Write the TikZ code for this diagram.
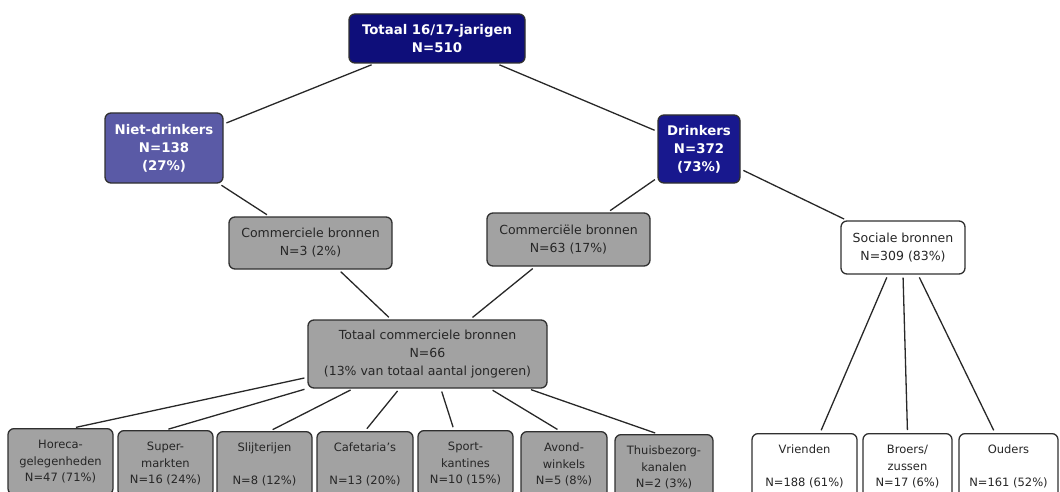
\documentclass[tikz,border=0pt]{standalone}
\usepackage{fontspec}
\setmainfont{DejaVu Sans}
\usetikzlibrary{positioning}

\definecolor{navy}{RGB}{14,14,122}
\definecolor{navylight}{RGB}{24,24,142}
\definecolor{lavendel}{RGB}{90,90,166}
\definecolor{grijs}{RGB}{162,162,162}
\definecolor{rand}{RGB}{48,48,48}
\definecolor{lijn}{RGB}{40,40,40}

\begin{document}
\begin{tikzpicture}[
	x=1pt, y=-1pt,
	shorten >=3pt,
	shorten <=3pt,
	line width=1.3pt,
	lijn,
	box/.style={draw=rand, line width=1.3pt, rounded corners=6pt, inner sep=0pt, align=center},
	kop/.style={box, fill=navy, text=white, font=\fontsize{13.3}{18}\selectfont\bfseries},
	sub/.style={kop, fill=lavendel},
	bron/.style={box, fill=grijs, text=black!85, font=\fontsize{12.5}{18}\selectfont},
	sociaal/.style={bron, fill=white},
	blad/.style={bron, anchor=north, minimum height=66, font=\fontsize{11.5}{16.5}\selectfont},
	bladw/.style={blad, fill=white}
]
\useasboundingbox (0,0) rectangle (1060,492);
\clip (0,0) rectangle (1060,492);

\node[kop] (tot) at (437,38.5) [minimum width=176, minimum height=49] {Totaal 16/17-jarigen\\N=510};
\node[sub] (niet) at (164,148) [minimum width=118, minimum height=70] {Niet-drinkers\\N=138\\(27\%)};
\node[kop] (drink) at (699,149) [fill=navylight, minimum width=82, minimum height=68] {Drinkers\\N=372\\(73\%)};

\node[bron] (comL) at (310.5,243) [minimum width=163, minimum height=52] {Commerciele bronnen\\N=3 (2\%)};
\node[bron] (comR) at (568.5,239.5) [minimum width=163, minimum height=53] {Commerciële bronnen\\N=63 (17\%)};
\node[sociaal] (soc) at (903,247.5) [minimum width=124, minimum height=53] {Sociale bronnen\\N=309 (83\%)};

\node[bron] (totc) at (427.5,354) [minimum width=239, minimum height=68] {Totaal commerciele bronnen\\N=66\\(13\% van totaal aantal jongeren)};

% commerciele bronnen
\node[blad] (hor) at (60.5,428) [minimum width=105] {Horeca-\\gelegenheden\\N=47 (71\%)};
\node[blad] (sup) at (165.5,430) [minimum width=95] {Super-\\markten\\N=16 (24\%)};
\node[blad] (slij) at (264.5,431) [minimum width=95] {Slijterijen\\~\\N=8 (12\%)};
\node[blad] (caf) at (365,431) [minimum width=96] {Cafetaria's\\~\\N=13 (20\%)};
\node[blad] (sport) at (465.5,430) [minimum width=95] {Sport-\\kantines\\N=10 (15\%)};
\node[blad] (avond) at (564,431) [minimum width=86] {Avond-\\winkels\\N=5 (8\%)};
\node[blad] (thuis) at (664,434) [minimum width=98] {Thuisbezorg-\\kanalen\\N=2 (3\%)};

% sociale bronnen
\node[bladw] (vri) at (804.5,433) [minimum width=105] {Vrienden\\~\\N=188 (61\%)};
\node[bladw] (bro) at (907.5,433) [minimum width=89] {Broers/\\zussen\\N=17 (6\%)};
\node[bladw] (oud) at (1008.5,433) [minimum width=99] {Ouders\\~\\N=161 (52\%)};

\path 	(tot) edge (niet)
		edge (drink)
	(niet) edge (comL)
	(drink) edge (comR)
		edge (soc)
	(comL) edge (totc)
	(comR) edge (totc)
	(totc.191) edge ([xshift=12.5pt]hor.north)
	(totc.196) edge (sup.north)
	(totc.205) edge ([xshift=5.5pt]slij.north)
	(totc.231) edge (caf.north)
	(totc.291) edge ([xshift=-11.5pt]sport.north)
	(totc.331) edge ([xshift=-4pt]avond.north)
	(totc.341) edge ([xshift=-6pt]thuis.north)
	([xshift=-15pt]soc.south) edge ([xshift=15.5pt]vri.north)
	(soc.south) edge (bro.north)
	([xshift=15pt]soc.south) edge ([xshift=-13.5pt]oud.north)
;
\end{tikzpicture}
\end{document}
